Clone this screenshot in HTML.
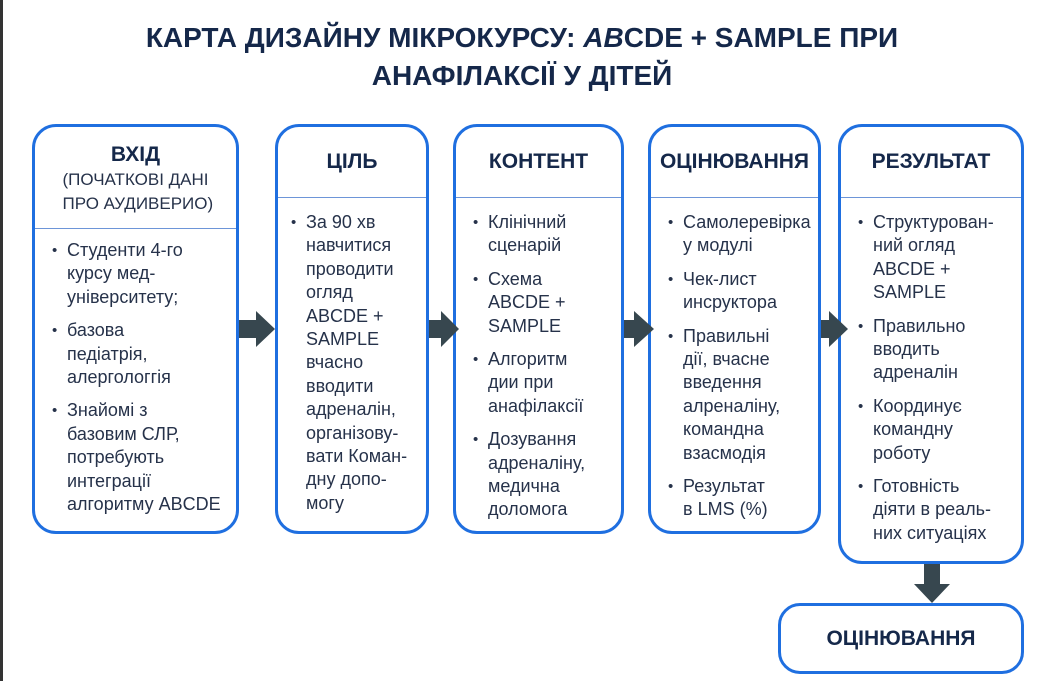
<!DOCTYPE html>
<html><head><meta charset="utf-8"><style>
body{margin:0;width:1044px;height:681px;background:#fff;position:relative;overflow:hidden;font-family:"Liberation Sans","DejaVu Sans",sans-serif;color:#1d2a3f}
.strip{position:absolute;left:0;top:0;width:3px;height:681px;background:#333}
h1{position:absolute;left:0;width:1044px;top:19px;margin:0;text-align:center;font-size:28px;line-height:38px;font-weight:bold;color:#15284a}
.box{position:absolute;border:3px solid #1f6fe0;border-radius:24px;box-sizing:border-box;background:#fff}
.hd{position:absolute;left:0;right:0;top:0;border-bottom:1.5px solid #6d95d8;text-align:center;font-weight:bold;font-size:20px;color:#15284a}
ul{position:absolute;left:0;right:0;margin:0;padding:0 0 0 32px;list-style:none;font-size:18px;line-height:23.4px;color:#26324a;white-space:nowrap}
li{position:relative;margin-bottom:10px}
li:before{content:"•";position:absolute;left:-15px;font-size:15px}
</style></head><body>
<div class="strip"></div>
<h1>КАРТА ДИЗАЙНУ МІКРОКУРСУ: <i>AB</i>CDE + SAMPLE ПРИ<br>АНАФІЛАКСІЇ У ДІТЕЙ</h1>

<div class="box" style="left:32px;top:124px;width:207px;height:410px">
 <div class="hd" style="height:102px;padding-top:16px;box-sizing:border-box;line-height:24px;font-size:21px">ВХІД<br><span style="font-weight:normal;font-size:17px;color:#26324a;line-height:22px">(ПОЧАТКОВІ ДАНІ<br>&nbsp;ПРО АУДИВЕРИО)</span></div>
 <ul style="top:112px"><li>Студенти 4-го<br>курсу мед-<br>університету;</li><li>базова<br>педіатрія,<br>алергологгія</li><li>Знайомі з<br>базовим СЛР,<br>потребують<br>интеграції<br>алгоритму ABCDE</li></ul>
</div>
<div class="box" style="left:275px;top:124px;width:154px;height:410px">
 <div class="hd" style="height:70px;line-height:70px;font-size:21px">ЦІЛЬ</div>
 <ul style="top:84px;padding-left:28px"><li>За 90 хв<br>навчитися<br>проводити<br>огляд<br>ABCDE +<br>SAMPLE<br>вчасно<br>вводити<br>адреналін,<br>організову-<br>вати Коман-<br>дну допо-<br>могу</li></ul>
</div>
<div class="box" style="left:453px;top:124px;width:171px;height:410px">
 <div class="hd" style="height:70px;line-height:70px;font-size:21px">КОНТЕНТ</div>
 <ul style="top:84px"><li>Клінічний<br>сценарій</li><li>Схема<br>ABCDE +<br>SAMPLE</li><li>Алгоритм<br>дии при<br>анафілаксії</li><li>Дозування<br>адреналіну,<br>медична<br>доломога</li></ul>
</div>
<div class="box" style="left:648px;top:124px;width:173px;height:410px">
 <div class="hd" style="height:70px;line-height:70px;font-size:21px">ОЦІНЮВАННЯ</div>
 <ul style="top:84px"><li>Самолеревірка<br>у модулі</li><li>Чек-лист<br>инсруктора</li><li>Правильні<br>дії, вчасне<br>введення<br>алреналіну,<br>командна<br>взасмодія</li><li>Результат<br>в LMS (%)</li></ul>
</div>
<div class="box" style="left:838px;top:124px;width:186px;height:440px">
 <div class="hd" style="height:70px;line-height:70px;font-size:21px">РЕЗУЛЬТАТ</div>
 <ul style="top:84px"><li>Структурован-<br>ний огляд<br>ABCDE +<br>SAMPLE</li><li>Правильно<br>вводить<br>адреналін</li><li>Координує<br>командну<br>роботу</li><li>Готовність<br>діяти в реаль-<br>них ситуаціях</li></ul>
</div>
<div class="box" style="left:778px;top:603px;width:246px;height:71px;border-radius:22px;text-align:center;line-height:65px;font-weight:bold;font-size:21px;color:#15284a">ОЦІНЮВАННЯ</div>

<svg width="1044" height="681" style="position:absolute;left:0;top:0" fill="#37474f">
<polygon points="239,320 256,320 256,311 275,329 256,347 256,338 239,338"/>
<polygon points="429,320 441,320 441,311 459,329 441,347 441,338 429,338"/>
<polygon points="624,320 634,320 634,311 654,329 634,347 634,338 624,338"/>
<polygon points="821,320 829,320 829,311 848,329 829,347 829,338 821,338"/>
<polygon points="924,564 940,564 940,584 950,584 932,603 914,584 924,584"/>
</svg>
</body></html>
